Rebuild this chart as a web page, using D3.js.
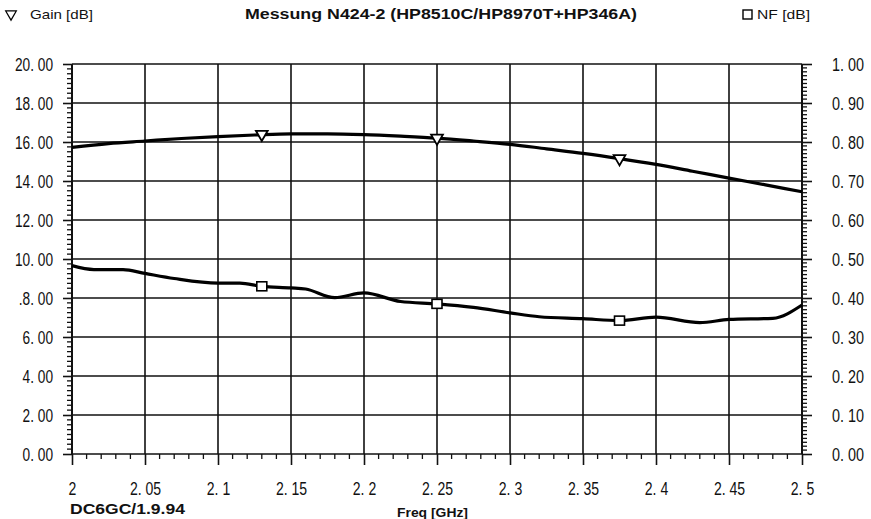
<!DOCTYPE html>
<html>
<head>
<meta charset="utf-8">
<script src="https://cdn.jsdelivr.net/npm/d3@7"></script>
<style>
html,body{margin:0;padding:0;background:#fff;}
svg{display:block;}
.tick-label{font-family:"Liberation Sans Narrow","Arial Narrow","Liberation Sans",sans-serif;font-size:18px;fill:#111;}
</style>
</head>
<body>
<svg id="chart" width="871" height="519"></svg>
<script>
// ---- data ----
const gainFreq = [2.000, 2.025, 2.050, 2.075, 2.100, 2.125, 2.150, 2.175, 2.200, 2.225, 2.250, 2.275, 2.300, 2.325, 2.350, 2.375, 2.400, 2.425, 2.450, 2.475, 2.500];
const gainVal  = [15.72, 15.92, 16.05, 16.18, 16.28, 16.36, 16.42, 16.42, 16.38, 16.30, 16.20, 16.05, 15.88, 15.65, 15.42, 15.15, 14.85, 14.50, 14.15, 13.80, 13.45];
const nfFreq = [2.000, 2.015, 2.035, 2.050, 2.070, 2.100, 2.115, 2.130, 2.150, 2.160, 2.180, 2.200, 2.225, 2.250, 2.275, 2.300, 2.320, 2.350, 2.375, 2.400, 2.430, 2.450, 2.480, 2.500];
const nfVal  = [0.483, 0.473, 0.473, 0.463, 0.450, 0.438, 0.438, 0.430, 0.426, 0.423, 0.401, 0.413, 0.391, 0.385, 0.376, 0.362, 0.352, 0.347, 0.342, 0.351, 0.337, 0.345, 0.348, 0.382];
const markerFreq = [2.13, 2.25, 2.375];
const gainMarkerVal = [16.40, 16.20, 15.15];
const nfMarkerVal = [0.430, 0.385, 0.342];
const xTicks = [2, 2.05, 2.1, 2.15, 2.2, 2.25, 2.3, 2.35, 2.4, 2.45, 2.5];
const xTickLabels = ["2", "2. 05", "2. 1", "2. 15", "2. 2", "2. 25", "2. 3", "2. 35", "2. 4", "2. 45", "2. 5"];
const yLeftTicks = [0, 2, 4, 6, 8, 10, 12, 14, 16, 18, 20];
const yLeftLabels = ["0. 00", "2. 00", "4. 00", "6. 00", ".8. 00", "10. 00", "12. 00", "14. 00", "16. 00", "18. 00", "20. 00"];
const yRightTicks = [0, 0.1, 0.2, 0.3, 0.4, 0.5, 0.6, 0.7, 0.8, 0.9, 1.0];
const yRightLabels = ["0. 00", "0. 10", "0. 20", "0. 30", "0. 40", "0. 50", "0. 60", "0. 70", "0. 80", "0. 90", "1. 00"];
const titleText = "Messung N424-2 (HP8510C/HP8970T+HP346A)";
const leftLegend = "Gain [dB]";
const rightLegend = "NF [dB]";
const footLeft = "DC6GC/1.9.94";
const xTitle = "Freq [GHz]";

// ---- scales ----
const svg = d3.select("#chart");
const L = 72, R = 802, T = 64, B = 454;
const x = d3.scaleLinear().domain([2, 2.5]).range([L, R]);
const yL = d3.scaleLinear().domain([0, 20]).range([B, T]);
const yR = d3.scaleLinear().domain([0, 1]).range([B, T]);

function squeeze(sel, f) {
  sel.each(function () {
    const w = this.getComputedTextLength();
    d3.select(this).attr("textLength", w * f).attr("lengthAdjust", "spacingAndGlyphs");
  });
}

// grid
const g = svg.append("g");
g.selectAll("line.hg").data(yLeftTicks).join("line")
  .attr("x1", L).attr("x2", R).attr("y1", d => yL(d)).attr("y2", d => yL(d))
  .attr("stroke", "#111").attr("stroke-width", 1.6);
g.selectAll("line.vg").data(xTicks).join("line")
  .attr("x1", d => x(d)).attr("x2", d => x(d)).attr("y1", T).attr("y2", B)
  .attr("stroke", "#111").attr("stroke-width", d => (d === 2 || d === 2.5) ? 2 : 1.6);

// left axis
const leftAxis = d3.axisLeft(yL).tickValues(yLeftTicks).tickSize(9).tickFormat((d, i) => yLeftLabels[i]);
const la = svg.append("g").attr("transform", `translate(${L},0)`).call(leftAxis);
la.select(".domain").remove();
la.selectAll(".tick line").attr("stroke", "#111").attr("stroke-width", 1.6);
la.selectAll(".tick text").attr("class", "tick-label").attr("x", -19).attr("dy", "0.35em").attr("fill", "#111");
squeeze(la.selectAll(".tick text"), 0.76);
const leftMinor = d3.range(0, 20.001, 0.25).filter(v => Math.abs(v / 2 - Math.round(v / 2)) > 1e-6);
svg.append("g").selectAll("line").data(leftMinor).join("line")
  .attr("x1", L - 5).attr("x2", L).attr("y1", d => yL(d)).attr("y2", d => yL(d))
  .attr("stroke", "#111").attr("stroke-width", 1.3);

// right axis
const rightAxis = d3.axisRight(yR).tickValues(yRightTicks).tickSize(10).tickFormat((d, i) => yRightLabels[i]);
const ra = svg.append("g").attr("transform", `translate(${R},0)`).call(rightAxis);
ra.select(".domain").remove();
ra.selectAll(".tick line").attr("stroke", "#111").attr("stroke-width", 1.6);
ra.selectAll(".tick text").attr("class", "tick-label").attr("x", 30).attr("dy", "0.35em").attr("fill", "#111");
squeeze(ra.selectAll(".tick text"), 0.8);
const rightMinor = d3.range(0, 1.0001, 0.01).filter(v => Math.abs(v * 10 - Math.round(v * 10)) > 1e-6);
svg.append("g").selectAll("line").data(rightMinor).join("line")
  .attr("x1", R).attr("x2", R + 5).attr("y1", d => yR(d)).attr("y2", d => yR(d))
  .attr("stroke", "#111").attr("stroke-width", 1.3);

// bottom axis
const bottomAxis = d3.axisBottom(x).tickValues(xTicks).tickSize(11).tickFormat((d, i) => xTickLabels[i]);
const ba = svg.append("g").attr("transform", `translate(0,${B})`).call(bottomAxis);
ba.select(".domain").remove();
ba.selectAll(".tick line").attr("stroke", "#111").attr("stroke-width", 1.6);
ba.selectAll(".tick text").attr("class", "tick-label").attr("y", 28).attr("dy", "0.71em").attr("fill", "#111");
squeeze(ba.selectAll(".tick text"), 0.78);
const xMinor = d3.range(2, 2.5001, 0.01).filter(v => Math.abs(v * 20 - Math.round(v * 20)) > 1e-6);
svg.append("g").selectAll("line").data(xMinor).join("line")
  .attr("x1", d => x(d)).attr("x2", d => x(d)).attr("y1", B).attr("y2", B + 5)
  .attr("stroke", "#111").attr("stroke-width", 1.3);

// curves
const gainLine = d3.line().x(d => x(d[0])).y(d => yL(d[1])).curve(d3.curveMonotoneX);
svg.append("path").datum(gainFreq.map((f, i) => [f, gainVal[i]]))
  .attr("d", gainLine).attr("fill", "none").attr("stroke", "#000").attr("stroke-width", 3.2);
const nfLine = d3.line().x(d => x(d[0])).y(d => yR(d[1])).curve(d3.curveMonotoneX);
svg.append("path").datum(nfFreq.map((f, i) => [f, nfVal[i]]))
  .attr("d", nfLine).attr("fill", "none").attr("stroke", "#000").attr("stroke-width", 3.2);

// markers
const tri = d3.symbol().type(d3.symbolTriangle).size(60);
svg.append("g").selectAll("path").data(markerFreq).join("path")
  .attr("d", tri)
  .attr("transform", (d, i) => `translate(${x(d)},${yL(gainMarkerVal[i])}) rotate(180)`)
  .attr("fill", "#fff").attr("stroke", "#000").attr("stroke-width", 1.8);
svg.append("g").selectAll("rect").data(markerFreq).join("rect")
  .attr("x", d => x(d) - 5).attr("width", 10).attr("height", 9)
  .attr("y", (d, i) => yR(nfMarkerVal[i]) - 4.5)
  .attr("fill", "#fff").attr("stroke", "#000").attr("stroke-width", 1.6);

// header
const font = "Liberation Sans, Arial, sans-serif";
svg.append("path").attr("d", tri).attr("transform", "translate(11,14) rotate(180) scale(0.9)")
  .attr("fill", "#fff").attr("stroke", "#000").attr("stroke-width", 1.4);
svg.append("text").attr("x", 30).attr("y", 19).text(leftLegend)
  .attr("font-family", font).attr("font-size", 13).attr("textLength", 63).attr("lengthAdjust", "spacingAndGlyphs").attr("fill", "#111");
svg.append("text").attr("x", 441).attr("y", 19).attr("text-anchor", "middle").text(titleText)
  .attr("font-family", font).attr("font-weight", "bold").attr("font-size", 14)
  .attr("textLength", 392).attr("lengthAdjust", "spacingAndGlyphs").attr("fill", "#111");
svg.append("rect").attr("x", 743).attr("y", 10).attr("width", 9).attr("height", 9)
  .attr("fill", "#fff").attr("stroke", "#000").attr("stroke-width", 1.4);
svg.append("text").attr("x", 757).attr("y", 19).text(rightLegend)
  .attr("font-family", font).attr("font-size", 13).attr("textLength", 53).attr("lengthAdjust", "spacingAndGlyphs").attr("fill", "#111");

// footer
svg.append("text").attr("x", 70).attr("y", 514).text(footLeft)
  .attr("font-family", font).attr("font-weight", "bold").attr("font-size", 14)
  .attr("textLength", 115).attr("lengthAdjust", "spacingAndGlyphs").attr("fill", "#111");
svg.append("text").attr("x", 397).attr("y", 517).text(xTitle)
  .attr("font-family", font).attr("font-weight", "bold").attr("font-size", 12)
  .attr("textLength", 71).attr("lengthAdjust", "spacingAndGlyphs").attr("fill", "#111");
</script>
</body>
</html>
